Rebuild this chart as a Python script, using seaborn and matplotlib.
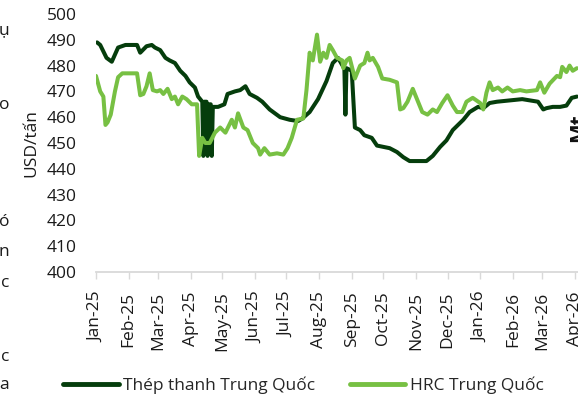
import matplotlib
matplotlib.use("Agg")
import matplotlib.pyplot as plt
import matplotlib.dates as mdates
import pandas as pd
import seaborn as sns

# Giá thép Trung Quốc (USD/tấn)
rebar_dates = [
    "2025-01-02", "2025-01-05", "2025-01-11", "2025-01-16", "2025-01-22", "2025-01-29",
    "2025-02-09", "2025-02-12", "2025-02-18", "2025-02-23", "2025-02-26", "2025-03-03",
    "2025-03-08", "2025-03-12", "2025-03-17", "2025-03-22", "2025-03-27", "2025-03-31",
    "2025-04-05", "2025-04-08", "2025-04-12", "2025-04-13", "2025-04-14", "2025-04-16",
    "2025-04-17", "2025-04-18", "2025-04-20", "2025-04-21", "2025-04-22", "2025-04-27",
    "2025-05-03", "2025-05-06", "2025-05-13", "2025-05-18", "2025-05-23", "2025-05-27",
    "2025-06-03", "2025-06-08", "2025-06-15", "2025-06-25", "2025-07-04", "2025-07-12",
    "2025-07-16", "2025-07-23", "2025-07-31", "2025-08-08", "2025-08-14", "2025-08-19",
    "2025-08-24", "2025-08-25", "2025-08-26", "2025-08-27", "2025-09-01", "2025-09-04",
    "2025-09-09", "2025-09-13", "2025-09-20", "2025-09-25", "2025-10-07", "2025-10-14",
    "2025-10-20", "2025-10-26", "2025-11-11", "2025-11-17", "2025-11-24", "2025-11-30",
    "2025-12-06", "2025-12-16", "2025-12-22", "2025-12-30", "2026-01-04", "2026-01-10",
    "2026-01-17", "2026-02-10", "2026-02-25", "2026-03-02", "2026-03-05", "2026-03-11",
    "2026-03-18", "2026-03-24", "2026-03-29", "2026-04-03",
]
rebar_values = [
    489, 488, 483, 481.5, 487, 488,
    488, 485, 487.5, 488, 487, 486,
    483, 482, 481, 478, 476, 473.5,
    471.5, 468, 466, 445, 466, 466,
    445, 465, 465, 445, 464, 464,
    465, 469, 470, 470.5, 472, 469,
    467.5, 466, 463, 460, 459, 458.5,
    459.5, 462, 467, 474, 481, 483,
    479.5, 479, 461, 479, 478, 456,
    455, 453, 452, 449, 448, 446.5,
    444.5, 443, 443, 445, 448.5, 451,
    455, 459, 462, 464, 463.5, 465.5,
    466, 467, 466, 463, 463.5, 464,
    464, 464.5, 467.5, 468,
]

hrc_dates = [
    "2025-01-01", "2025-01-05", "2025-01-08", "2025-01-10", "2025-01-12", "2025-01-15",
    "2025-01-19", "2025-01-22", "2025-01-26", "2025-02-09", "2025-02-12", "2025-02-15",
    "2025-02-18", "2025-02-21", "2025-02-24", "2025-02-28", "2025-03-03", "2025-03-06",
    "2025-03-10", "2025-03-14", "2025-03-17", "2025-03-20", "2025-03-24", "2025-03-28",
    "2025-04-02", "2025-04-07", "2025-04-09", "2025-04-12", "2025-04-15", "2025-04-19",
    "2025-04-24", "2025-04-29", "2025-05-04", "2025-05-10", "2025-05-13", "2025-05-16",
    "2025-05-21", "2025-05-25", "2025-05-30", "2025-06-04", "2025-06-06", "2025-06-10",
    "2025-06-15", "2025-06-22", "2025-06-28", "2025-07-02", "2025-07-06", "2025-07-11",
    "2025-07-17", "2025-07-20", "2025-07-23", "2025-07-26", "2025-07-30", "2025-08-02",
    "2025-08-05", "2025-08-08", "2025-08-11", "2025-08-14", "2025-08-18", "2025-08-23",
    "2025-08-24", "2025-08-27", "2025-08-30", "2025-09-04", "2025-09-09", "2025-09-13",
    "2025-09-16", "2025-09-18", "2025-09-21", "2025-09-26", "2025-09-30", "2025-10-07",
    "2025-10-14", "2025-10-17", "2025-10-20", "2025-10-24", "2025-10-29", "2025-11-03",
    "2025-11-07", "2025-11-12", "2025-11-17", "2025-11-21", "2025-11-26", "2025-12-01",
    "2025-12-06", "2025-12-10", "2025-12-15", "2025-12-19", "2025-12-25", "2026-01-01",
    "2026-01-04", "2026-01-07", "2026-01-10", "2026-01-13", "2026-01-18", "2026-01-22",
    "2026-01-27", "2026-02-01", "2026-02-08", "2026-02-14", "2026-02-24", "2026-02-27",
    "2026-03-03", "2026-03-08", "2026-03-15", "2026-03-18", "2026-03-20", "2026-03-24",
    "2026-03-27", "2026-03-30", "2026-04-03",
]
hrc_values = [
    476, 470, 468, 457, 458, 461,
    470, 475.5, 477, 477, 468.5, 469,
    472, 477, 470.5, 470, 470.5, 469,
    471, 467, 468, 465, 468, 467,
    465, 465, 445, 452, 450, 450,
    454, 456, 454, 459, 456, 461.5,
    456, 455, 450, 448, 445.5, 448,
    445.5, 446, 445.5, 448, 452, 459,
    459.5, 470.5, 485, 482, 492, 481.5,
    485, 483, 488, 486, 483, 482,
    479, 482, 483, 475, 480, 481,
    485, 482, 483, 479.5, 475, 474.5,
    473.5, 463, 463.5, 466, 471, 466,
    462, 461, 463, 462, 465.5, 468.5,
    464.5, 462, 462, 466, 467.5, 465.5,
    463, 469.5, 473.5, 470.5, 471.5, 470,
    471.5, 470, 470.5, 470, 470.5, 473.5,
    469.5, 473, 476, 475.5, 479.5, 477.5,
    480, 478, 479,
]

series_names = ["Thép thanh Trung Quốc", "HRC Trung Quốc"]
series_colors = ["#053d0c", "#77c043"]
y_ticks = list(range(400, 501, 10))

df = pd.concat([
    pd.DataFrame({"date": pd.to_datetime(rebar_dates), "price": rebar_values, "series": series_names[0]}),
    pd.DataFrame({"date": pd.to_datetime(hrc_dates), "price": hrc_values, "series": series_names[1]}),
], ignore_index=True)

sns.set_theme(style="white")
plt.rcParams["font.family"] = ["Open Sans", "DejaVu Sans"]
FS = 12.5

fig = plt.figure(figsize=(5.78, 3.98), dpi=100)
ax = fig.add_axes([96 / 578, 1 - 272 / 398, 1 - 96 / 578, (272 - 14) / 398])

sns.lineplot(data=df, x="date", y="price", hue="series", hue_order=series_names,
             palette=series_colors, linewidth=2.9, ax=ax, estimator=None, sort=True)

ax.set_ylim(400, 500)
ax.set_yticks(y_ticks)
ax.set_xlim(pd.Timestamp("2025-01-01"), pd.Timestamp("2026-04-04"))
ax.xaxis.set_major_locator(mdates.MonthLocator())
ax.xaxis.set_major_formatter(mdates.DateFormatter("%b-%y"))
ax.tick_params(axis="x", rotation=90, labelsize=FS, length=5, width=1, color="#d9d9d9",
               bottom=True, pad=9, colors="#d9d9d9", labelcolor="#1a1a1a")
ax.tick_params(axis="y", labelsize=FS, length=0, pad=14, labelcolor="#1a1a1a")
for lbl in ax.get_xticklabels():
    lbl.set_va("top")

for side in ["left", "right", "top"]:
    ax.spines[side].set_visible(False)
ax.spines["bottom"].set_color("#d9d9d9")
ax.spines["bottom"].set_linewidth(1.3)

ax.set_xlabel("")
ax.set_ylabel("USD/tấn", fontsize=FS, color="#1a1a1a", labelpad=5)

sns.move_legend(ax, loc="center", bbox_to_anchor=(0.525, 0.032), bbox_transform=fig.transFigure,
                ncol=2, frameon=False, title=None, fontsize=FS, handlelength=3.2,
                handletextpad=0.25, columnspacing=2.0)
for line in ax.get_legend().get_lines():
    line.set_linewidth(3.5)

# Mảnh chữ của đoạn văn bên cạnh (bị cắt trong ảnh)
side_chars = ["ụ", "o", "ó", "n", "c", "c", "a"]
side_y = [30, 105, 222, 252, 283, 357, 385]
for ch, yy in zip(side_chars, side_y):
    fig.text(9 / 578, 1 - yy / 398, ch, ha="right", va="center", fontsize=FS, color="#1a1a1a")
fig.text(579 / 578, 1 - 142 / 398, "Mt", ha="center", va="bottom", rotation=90,
         fontsize=15, fontweight="bold", color="#111111")

fig.savefig("out.png", dpi=100)
